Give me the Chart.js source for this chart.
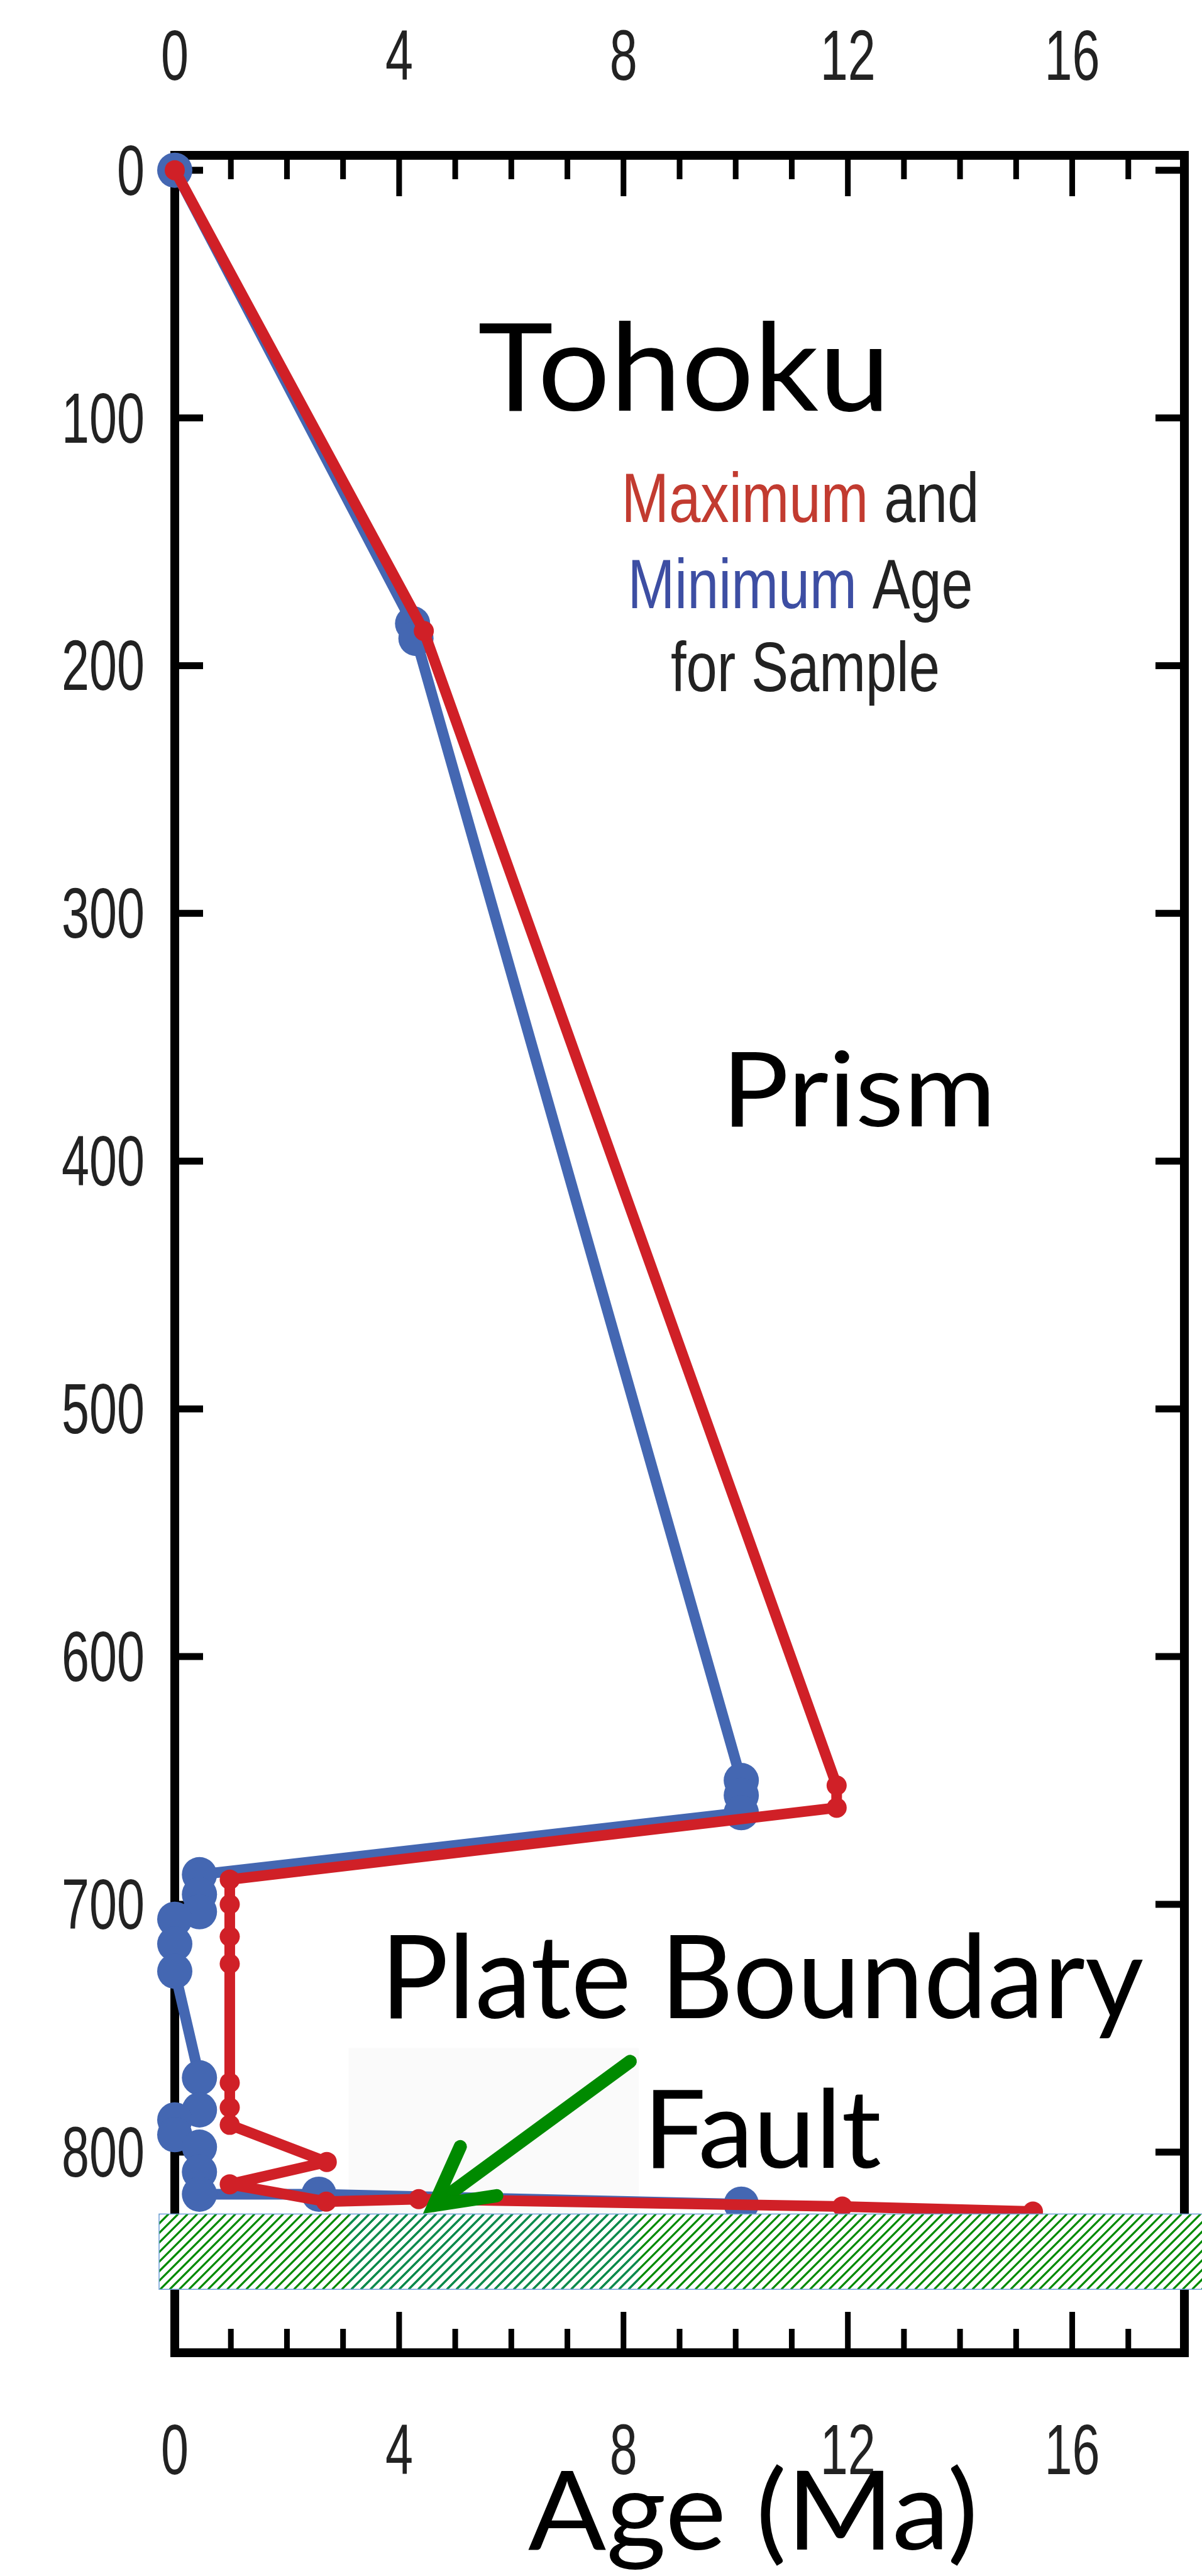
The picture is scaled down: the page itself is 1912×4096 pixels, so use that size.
<!DOCTYPE html>
<html>
<head>
<meta charset="utf-8">
<title>Tohoku - maximum and minimum age for sample</title>
<script src="https://cdn.jsdelivr.net/npm/chart.js@4.4.1/dist/chart.umd.min.js"></script>
<style>
  html, body { margin: 0; padding: 0; background: #fff; overflow: hidden; }
  canvas { display: block; }
</style>
</head>
<body>
<canvas id="c" width="1912" height="4096" style="width:1912px;height:4096px"></canvas>
<script>
// Age (Ma) against depth (m).
const redAge    = [0, 4.44, 11.8, 11.8, 0.98, 0.98, 0.98, 0.98, 0.98, 0.98, 0.98, 2.71, 0.98, 2.7, 4.35, 11.9, 15.3];
const redDepth  = [0, 186, 652, 661, 690, 700, 713, 724, 772, 782, 789, 804, 813, 820, 819, 822, 824];
const blueAge   = [0, 4.24, 4.3, 10.1, 10.1, 10.1, 0.44, 0.44, 0.44, 0, 0, 0, 0.44, 0.44, 0, 0, 0.44, 0.44, 0.44, 2.57, 10.1];
const blueDepth = [0, 183, 189, 650, 656, 663, 688, 696, 703, 706, 716, 727, 770, 783, 787, 793, 798, 808, 817, 817, 821];

const xTickLabels = [0, 4, 8, 12, 16];
const yTickLabels = [0, 100, 200, 300, 400, 500, 600, 700, 800];

// annotation anchors, in data units (age, depth)
const faultBox  = { age: [3.1, 8.27], depth: [758, 825] };
const faultZone = { age: -0.28, depth: [825, 855.4] };
const arrow = { tail: [8.12, 763.4], tip: [4.62, 821.5], wingA: [5.09, 797.8], wingB: [5.74, 817.6] };

const RED = '#d02027', BLUE = '#4467b2', GREEN = '#008a00', TEAL = '#0b8a50';

function pairs(xs, ys) { return xs.map((x, i) => ({ x: x, y: ys[i] })); }

// draw a run of coloured text squeezed to a measured width
function squeezeText(ctx, parts, x, baseline, font, width, align) {
  ctx.save();
  ctx.font = font;
  ctx.textAlign = 'left';
  ctx.textBaseline = 'alphabetic';
  const w = ctx.measureText(parts.map(p => p.t).join('')).width;
  const left = align === 'center' ? x - width / 2 : x;
  ctx.translate(left, baseline);
  ctx.scale(width / w, 1);
  let off = 0;
  parts.forEach(p => {
    ctx.fillStyle = p.c;
    ctx.fillText(p.t, off, 0);
    off += ctx.measureText(p.t).width;
  });
  ctx.restore();
}

// the axis numbers are narrow, tall Helvetica
function tickText(ctx, str, x, baseline, align) {
  const sx = 0.7;
  ctx.save();
  ctx.font = '113px "Liberation Sans", Arial, sans-serif';
  ctx.textAlign = 'left';
  ctx.textBaseline = 'alphabetic';
  const w = ctx.measureText(str).width * sx;
  const left = align === 'center' ? x - w / 2 : (align === 'right' ? x - w : x);
  ctx.translate(left, baseline);
  ctx.scale(sx, 1);
  ctx.fillStyle = '#222';
  ctx.fillText(str, 0, 0);
  ctx.restore();
}

const decor = {
  id: 'decor',
  beforeDatasetsDraw(chart) {
    const { ctx, chartArea: a, scales: { x, y } } = chart;
    ctx.save();
    // faint box behind "Fault"
    ctx.fillStyle = '#fafafa';
    const bx0 = x.getPixelForValue(faultBox.age[0]), bx1 = x.getPixelForValue(faultBox.age[1]);
    const by0 = y.getPixelForValue(faultBox.depth[0]), by1 = y.getPixelForValue(faultBox.depth[1]);
    ctx.fillRect(bx0, by0, bx1 - bx0, by1 - by0);

    // frame
    ctx.strokeStyle = '#000';
    ctx.lineWidth = 14;
    ctx.lineJoin = 'miter';
    ctx.strokeRect(a.left, a.top, a.right - a.left, a.bottom - a.top);

    // inward ticks, top and bottom
    ctx.lineWidth = 9;
    ctx.lineCap = 'butt';
    for (let v = 1; v < x.max; v++) {
      const px = x.getPixelForValue(v);
      const len = 7 + (v % 4 === 0 ? 58 : 31);
      ctx.beginPath();
      ctx.moveTo(px, a.top); ctx.lineTo(px, a.top + len);
      ctx.moveTo(px, a.bottom); ctx.lineTo(px, a.bottom - len);
      ctx.stroke();
    }
    // inward ticks, left and right
    ctx.lineWidth = 11;
    yTickLabels.forEach(v => {
      const py = y.getPixelForValue(v);
      ctx.beginPath();
      ctx.moveTo(a.left, py); ctx.lineTo(a.left + 45, py);
      ctx.moveTo(a.right, py); ctx.lineTo(a.right - 46, py);
      ctx.stroke();
    });
    ctx.restore();

    // tick labels
    xTickLabels.forEach(v => {
      const px = x.getPixelForValue(v);
      tickText(ctx, String(v), px, 127, 'center');
      tickText(ctx, String(v), px, 3934, 'center');
    });
    yTickLabels.forEach(v => {
      tickText(ctx, String(v), a.left - 48, y.getPixelForValue(v) + 39, 'right');
    });
  },
  afterDatasetsDraw(chart) {
    const { ctx, scales: { x, y } } = chart;
    const P = p => [x.getPixelForValue(p[0]), y.getPixelForValue(p[1])];
    const tail = P(arrow.tail), tip = P(arrow.tip), wa = P(arrow.wingA), wb = P(arrow.wingB);
    ctx.save();
    ctx.strokeStyle = GREEN;
    ctx.lineWidth = 21;
    ctx.lineCap = 'round';
    ctx.beginPath();
    ctx.moveTo(tail[0], tail[1]);
    ctx.lineTo(tip[0], tip[1]);
    ctx.stroke();
    ctx.lineJoin = 'miter';
    ctx.miterLimit = 10;
    ctx.beginPath();
    ctx.moveTo(wa[0], wa[1]);
    ctx.lineTo(tip[0], tip[1]);
    ctx.lineTo(wb[0], wb[1]);
    ctx.stroke();
    ctx.restore();
  },
  afterDraw(chart) {
    const { ctx, scales: { x, y } } = chart;

    // hatched plate boundary zone, drawn over everything
    const hx0 = x.getPixelForValue(faultZone.age), hx1 = chart.width;
    const hy0 = y.getPixelForValue(faultZone.depth[0]), hy1 = y.getPixelForValue(faultZone.depth[1]);
    const h = hy1 - hy0;
    const hatch = (color, cx0, cx1) => {
      ctx.save();
      ctx.beginPath();
      ctx.rect(cx0, hy0, cx1 - cx0, h);
      ctx.clip();
      ctx.strokeStyle = color;
      ctx.lineWidth = 3.2;
      ctx.beginPath();
      for (let k = hx0 - h; k < hx1 + h; k += 15.2) {
        ctx.moveTo(k, hy1);
        ctx.lineTo(k + h, hy0);
      }
      ctx.stroke();
      ctx.restore();
    };
    ctx.save();
    ctx.fillStyle = '#fff';
    ctx.fillRect(hx0, hy0, hx1 - hx0, h);
    ctx.restore();
    hatch(GREEN, hx0, hx1);
    hatch(TEAL, x.getPixelForValue(faultBox.age[0]), x.getPixelForValue(faultBox.age[1]));
    ctx.save();
    ctx.strokeStyle = '#6f9fd8';
    ctx.lineWidth = 1.5;
    ctx.strokeRect(hx0, hy0, hx1 - hx0 + 2, h);
    ctx.restore();

    // labels
    const calibri = size => size + 'px Lato, "Open Sans", sans-serif';
    const arial = size => size + 'px "Liberation Sans", Arial, sans-serif';
    squeezeText(ctx, [{ t: 'Tohoku', c: '#000' }], 760, 653, calibri(194), 656, 'left');
    squeezeText(ctx, [{ t: 'Maximum', c: '#c23b30' }, { t: ' and', c: '#222' }], 1273, 830, arial(111), 569, 'center');
    squeezeText(ctx, [{ t: 'Minimum', c: '#3d4ea3' }, { t: ' Age', c: '#222' }], 1273, 967, arial(111), 549, 'center');
    squeezeText(ctx, [{ t: 'for Sample', c: '#222' }], 1281, 1099, arial(111), 428, 'center');
    squeezeText(ctx, [{ t: 'Prism', c: '#000' }], 1148, 1791, calibri(164), 436, 'left');
    squeezeText(ctx, [{ t: 'Plate Boundary', c: '#000' }], 605, 3209, calibri(185), 1214, 'left');
    squeezeText(ctx, [{ t: 'Fault', c: '#000' }], 1023, 3447, calibri(172), 379, 'left');
    squeezeText(ctx, [{ t: 'Age (Ma)', c: '#000' }], 840, 4054, calibri(174), 716, 'left');
  }
};

new Chart(document.getElementById('c'), {
  type: 'scatter',
  data: {
    datasets: [
      {
        label: 'Maximum age',
        data: pairs(redAge, redDepth),
        order: 1,
        showLine: true,
        borderColor: RED,
        backgroundColor: RED,
        borderWidth: 17,
        borderJoinStyle: 'round',
        borderCapStyle: 'round',
        pointRadius: 16,
        pointHoverRadius: 16,
        pointBorderWidth: 0,
        clip: false
      },
      {
        label: 'Minimum age',
        data: pairs(blueAge, blueDepth),
        order: 2,
        showLine: true,
        borderColor: BLUE,
        backgroundColor: BLUE,
        borderWidth: 17,
        borderJoinStyle: 'round',
        borderCapStyle: 'round',
        pointRadius: 28,
        pointHoverRadius: 28,
        pointBorderWidth: 0,
        clip: false
      }
    ]
  },
  options: {
    responsive: false,
    animation: false,
    devicePixelRatio: 1,
    events: [],
    layout: { padding: { left: 278, right: 13, top: 247, bottom: 355 } },
    plugins: { legend: { display: false }, tooltip: { enabled: false } },
    scales: {
      x: { type: 'linear', min: 0, max: 18, display: false },
      y: { type: 'linear', min: -6, max: 881, reverse: true, display: false }
    }
  },
  plugins: [decor]
});
</script>
</body>
</html>
